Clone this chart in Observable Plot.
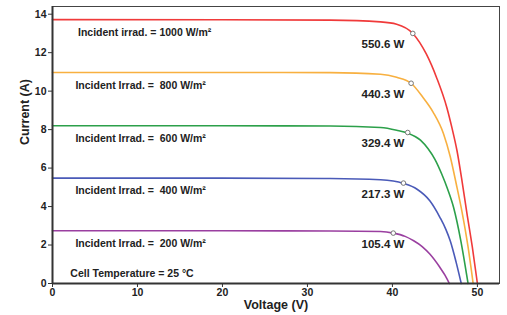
<!DOCTYPE html>
<html>
<head>
<meta charset="utf-8">
<script src="https://cdn.jsdelivr.net/npm/d3@7"></script>
<script src="https://cdn.jsdelivr.net/npm/@observablehq/plot@0.6"></script>
<style>
  html, body { margin: 0; padding: 0; background: #fff; }
  #chart svg { display: block; }
</style>
</head>
<body>
<div id="chart"></div>
<script>
// ---- Data ----
const irradiance = [1000, 800, 600, 400, 200];
const seriesColors = ["#f03a3a", "#f8b040", "#2ca04a", "#4a5ab8", "#9a3fa0"];

const v1000 = [0, 20, 32.7, 38.6, 40.5, 42.4, 44.0, 45.2, 46.4, 47.0, 47.6, 48.2, 48.75, 49.4, 50.0];
const i1000 = [13.72, 13.71, 13.69, 13.6, 13.48, 13.0, 11.92, 10.7, 9.15, 8.1, 6.9, 5.3, 3.7, 1.9, 0];

const v800 = [0, 20, 32.7, 38.6, 40.5, 42.2, 43.6, 44.8, 46.0, 46.8, 47.5, 48.2, 48.9, 49.5];
const i800 = [10.97, 10.97, 10.96, 10.88, 10.72, 10.41, 9.67, 8.9, 7.8, 6.6, 5.2, 3.7, 1.9, 0];

const v600 = [0, 20, 32.7, 38.6, 40.5, 41.8, 43.3, 44.2, 45.0, 45.8, 46.5, 47.2, 48.05, 48.9];
const i600 = [8.2, 8.2, 8.19, 8.11, 7.97, 7.82, 7.45, 7.0, 6.45, 5.69, 4.9, 3.95, 2.22, 0];

const v400 = [0, 20, 32.7, 38.6, 41.3, 42.9, 44.4, 45.6, 46.3, 46.8, 47.5, 48.1];
const i400 = [5.48, 5.48, 5.46, 5.39, 5.2, 4.9, 4.3, 3.43, 2.8, 2.22, 1.1, 0];

const v200 = [0, 20, 32.7, 38.6, 40.1, 41.5, 42.5, 43.5, 44.4, 45.6, 46.2, 46.7];
const i200 = [2.74, 2.74, 2.73, 2.70, 2.62, 2.45, 2.22, 1.92, 1.53, 0.83, 0.42, 0];

const mppVoltage = [42.4, 42.2, 41.8, 41.3, 40.1];
const mppCurrent = [13.0, 10.41, 7.85, 5.22, 2.62];
const powerLabels = ["550.6 W", "440.3 W", "329.4 W", "217.3 W", "105.4 W"];
const irradLabels = [
  "Incident irrad. = 1000 W/m²",
  "Incident Irrad. =  800 W/m²",
  "Incident Irrad. =  600 W/m²",
  "Incident Irrad. =  400 W/m²",
  "Incident Irrad. =  200 W/m²"
];
const iscCurrent = [13.72, 10.97, 8.2, 5.48, 2.74];
const tempLabel = "Cell Temperature = 25 °C";
const xTicks = [0, 10, 20, 30, 40, 50];
const yTicks = [0, 2, 4, 6, 8, 10, 12, 14];

// ---- Build tidy tables ----
const curveV = [v1000, v800, v600, v400, v200];
const curveI = [i1000, i800, i600, i400, i200];
const curves = [];
irradiance.forEach((g, k) => {
  curveV[k].forEach((v, j) => curves.push({g, v, i: curveI[k][j]}));
});
const mpp = irradiance.map((g, k) => ({g, v: mppVoltage[k], i: mppCurrent[k], label: powerLabels[k]}));
const irr = irradiance.map((g, k) => ({g, i: iscCurrent[k], label: irradLabels[k], x0: k === 0 ? 3 : 2.7}));

const font = "Liberation Sans, Arial, Helvetica, sans-serif";
const labelVoltage = 41.4;

const chart = Plot.plot({
  width: 507,
  height: 315,
  marginLeft: 52,
  marginRight: 8,
  marginTop: 6,
  marginBottom: 32,
  style: {fontFamily: font, fontWeight: "bold", color: "#222", background: "#fff"},
  x: {domain: [0, 52.6]},
  y: {domain: [0, 14.4]},
  color: {domain: irradiance, range: seriesColors},
  marks: [
    Plot.frame({stroke: "#444", strokeWidth: 1}),
    Plot.line(curves, {x: "v", y: "i", z: "g", stroke: "g", strokeWidth: 1.6, curve: "monotone-x"}),
    Plot.dot(mpp, {x: "v", y: "i", r: 2.3, fill: "white", stroke: "#777", strokeWidth: 1}),
    Plot.text(mpp, {x: () => labelVoltage, y: "i", text: "label", textAnchor: "end", dy: 11, fontSize: 11.5, fill: "#222"}),
    Plot.text(irr, {x: "x0", y: "i", text: "label", textAnchor: "start", dy: 13, fontSize: 10.5, fill: "#222"}),
    Plot.text([tempLabel], {x: () => 2.1, y: () => 0.5, text: d => d, textAnchor: "start", fontSize: 10.5, fill: "#222"}),
    Plot.axisX({ticks: xTicks, tickSize: 4, tickPadding: 1, fontSize: 10.5, label: null, stroke: "#333"}),
    Plot.axisY({ticks: yTicks, tickSize: 4, tickPadding: 2, fontSize: 10.5, label: null, stroke: "#333"}),
    Plot.ruleX([0], {stroke: "#333", strokeWidth: 2}),
    Plot.ruleY([0], {stroke: "#333", strokeWidth: 2}),
    Plot.text(["Voltage (V)"], {frameAnchor: "bottom", dy: 25, text: d => d, fontSize: 12.5, fill: "#222"}),
    Plot.text(["Current (A)"], {frameAnchor: "left", dx: -28, rotate: -90, text: d => d, fontSize: 12.5, fill: "#222"})
  ]
});
document.getElementById("chart").appendChild(chart);
</script>
</body>
</html>
